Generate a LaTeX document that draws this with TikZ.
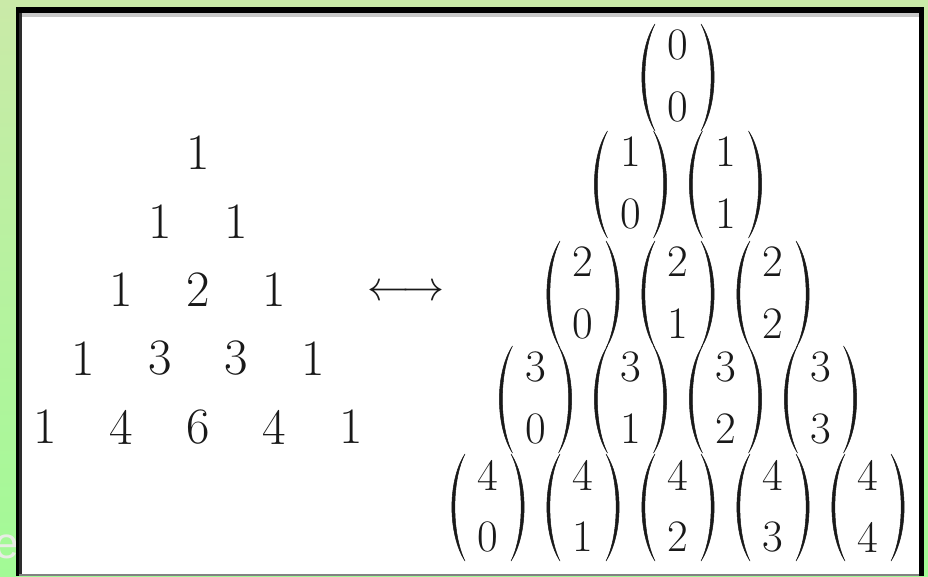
\documentclass[tikz,border=0pt]{standalone}
\usepackage{amsmath}
\usepackage[no-math]{fontspec}
\newfontfamily\efont{Liberation Sans}
\definecolor{bgtop}{RGB}{202,234,168}
\definecolor{bgbot}{RGB}{162,250,150}
\definecolor{edgegray}{RGB}{200,200,200}
\definecolor{edgedark}{RGB}{45,45,45}
\definecolor{edgebot}{RGB}{130,130,130}
\definecolor{efaint}{RGB}{232,236,228}
\definecolor{ink}{RGB}{25,25,25}
\tikzset{
  pdigit/.style={inner sep=0pt, text=ink, font=\fontsize{51}{56}\selectfont},
  bdigit/.style={inner sep=0pt, text=ink, font=\fontsize{45}{50}\selectfont},
  arrowtxt/.style={inner sep=0pt, text=ink},
  parenfill/.style={fill=ink, draw=ink, line width=0.5pt},
  faintlabel/.style={inner sep=0pt, text=efaint, font=\efont\fontsize{44}{50}\selectfont}
}
\begin{document}
\begin{tikzpicture}[x=1pt,y=-1pt]
\useasboundingbox (0,0) rectangle (928,576);
% background
\shade[top color=bgtop, bottom color=bgbot] (0,0) rectangle (928,576);
\node[faintlabel, anchor=base east] (e) at (19,558) {e};
% frame
\fill[black] (16,7) rectangle (924,576);
\fill[white] (22,17) rectangle (919,574);
\fill[edgegray] (19,13) rectangle (919,17);
\fill[edgedark] (19,13) rectangle (22,574);
\fill[edgebot] (19,574) rectangle (919,576);
% Pascal triangle
\foreach \n in {0,...,4}{
  \foreach \k in {0,...,\n}{
    \pgfmathtruncatemacro{\val}{factorial(\n)/(factorial(\k)*factorial(\n-\k))}
    \node[pdigit] (p-\n-\k) at ({198+76.5*(\k-\n/2)},{153+68.5*\n}) {\val};
  }
}
% arrow
\node[arrowtxt] (arr) at (406,293) {\scalebox{4.2}{$\longleftrightarrow$}};
% binomial coefficients
\foreach \n/\yy in {0/76,1/183,2/293,3/398,4/506}{
  \foreach \k in {0,...,\n}{
    \pgfmathsetmacro{\cx}{678+95*(\k-\n/2)}
    \node[bdigit] (bt-\n-\k) at (\cx,\yy-31) {\n};
    \node[bdigit] (bb-\n-\k) at (\cx,\yy+31) {\k};
    \begin{scope}[shift={(\cx,\yy)}]
      \coordinate (bc-\n-\k) at (0,0);
      \path[parenfill] (-23,-52) .. controls (-40.5,-26) and (-40.5,28) .. (-23,55)
                              .. controls (-36.5,28) and (-36.5,-26) .. cycle;
      \path[parenfill] (23,-52) .. controls (40.5,-26) and (40.5,28) .. (23,55)
                              .. controls (36.5,28) and (36.5,-26) .. cycle;
    \end{scope}
  }
}
\end{tikzpicture}
\end{document}
